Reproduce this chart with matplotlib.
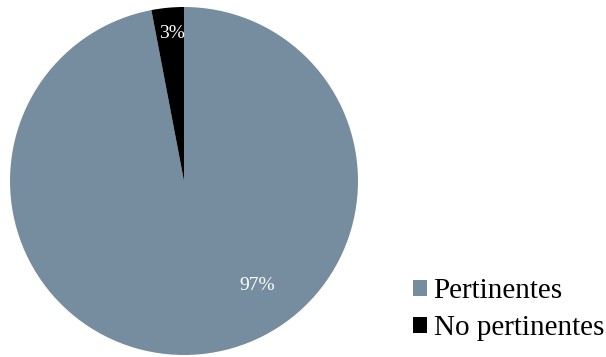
import matplotlib.pyplot as plt
import numpy as np

categories = ["Pertinentes", "No pertinentes"]
values = [97, 3]
colors = ["#768DA0", "#000000"]

plt.rcParams['font.family'] = ['Liberation Serif', 'DejaVu Serif']

fig = plt.figure(figsize=(6.06, 3.57), dpi=100)
W, H = 606, 357
ax = fig.add_axes([10 / W, 2 / H, 348 / W, 348 / H])

wedges, _ = ax.pie(values, colors=colors, startangle=90, counterclock=False,
                   radius=1.0, wedgeprops=dict(linewidth=0))
ax.set_xlim(-1, 1)
ax.set_ylim(-1, 1)
ax.set_aspect('equal')

# percentage labels placed inside each slice
label_pos = [(0.42, -0.60), (-0.07, 0.85)]
total = sum(values)
for v, (x, y) in zip(values, label_pos):
    ax.text(x, y, f"{v / total * 100:.0f}%", color="white", fontsize=14,
            ha="center", va="center")

leg = fig.legend(wedges, categories, loc="lower left",
                 bbox_to_anchor=(401 / W, 4 / H), frameon=False,
                 fontsize=21, handlelength=0.48, handleheight=0.48,
                 handletextpad=0.24, labelspacing=0.38, borderaxespad=0)

fig.savefig("out.png", dpi=100)
